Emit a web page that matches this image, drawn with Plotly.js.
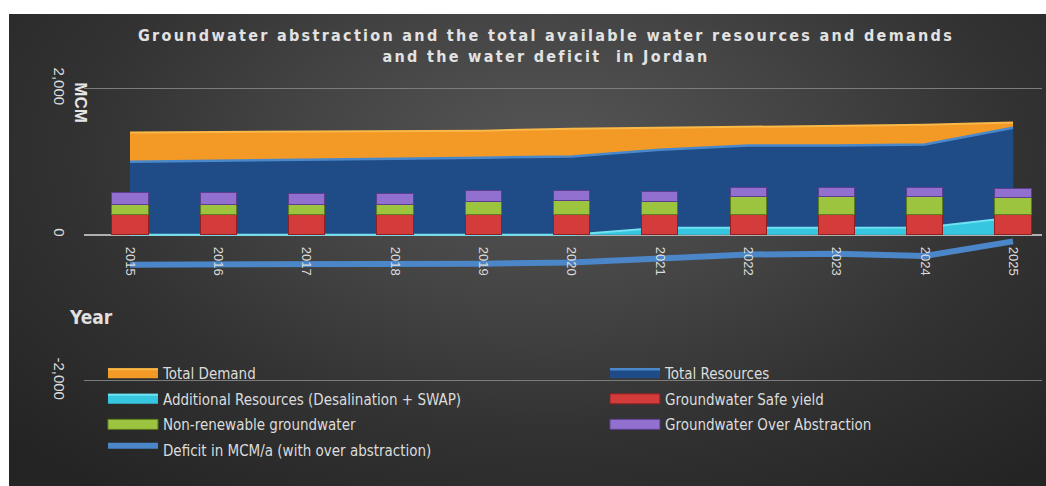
<!DOCTYPE html>
<html>
<head>
<meta charset="utf-8">
<script src="https://cdn.plot.ly/plotly-3.0.1.min.js"></script>
<style>
  html, body { margin: 0; padding: 0; background: #ffffff; }
  #wrap { position: relative; width: 1046px; height: 486px; overflow: hidden; }
  #bg { position: absolute; left: 9px; top: 14px; width: 1037px; height: 472px;
        background: radial-gradient(ellipse 70% 90% at 52% 30%, #565656 0%, #444444 35%, #323232 65%, #242424 100%); }
  #chart { position: absolute; left: 0; top: 0; width: 1046px; height: 486px; }
  #chart .gtitle { letter-spacing: 2.3px; }
</style>
</head>
<body>
<div id="wrap">
  <div id="bg"></div>
  <div id="chart"></div>
</div>
<script>
// ---- data (MCM) ----
const years = [2015, 2016, 2017, 2018, 2019, 2020, 2021, 2022, 2023, 2024, 2025];
const yearLabels = ['2015','2016','2017','2018','2019','2020','2021','2022','2023','2024','2025'];
const totalDemand = [1400, 1405, 1410, 1415, 1425, 1450, 1465, 1480, 1490, 1505, 1535];
const totalResources = [1000, 1010, 1025, 1040, 1055, 1070, 1165, 1220, 1220, 1235, 1465];
const additionalResources = [0, 0, 0, 0, 0, 0, 95, 100, 100, 100, 235];
const safeYield = [275, 275, 275, 275, 275, 275, 275, 275, 275, 275, 275];
const nonRenewable = [137, 137, 137, 137, 175, 190, 182, 245, 245, 245, 230];
const overAbstraction = [172, 172, 152, 152, 155, 137, 130, 125, 125, 125, 123];
const deficit = [-410, -410, -395, -415, -395, -380, -330, -270, -260, -290, -90];
const yTickVals = [-2000, 0, 2000];
const yTickText = ['-2,000', '0', '2,000'];

const FONT = 'DejaVu Sans Condensed, Liberation Sans Narrow, Arial Narrow, sans-serif';
const TXT = '#dcdcdc';

const traces = [
  { name: 'Total Demand', x: years, y: totalDemand, type: 'scatter', mode: 'lines',
    fill: 'tozeroy', fillcolor: '#f39a26', line: { color: '#f9b848', width: 2 },
    xaxis: 'x', yaxis: 'y', legend: 'legend', legendgroup: 'g1' },
  { name: 'Total Resources', x: years, y: totalResources, type: 'scatter', mode: 'lines',
    fill: 'tozeroy', fillcolor: '#1f4c86', line: { color: '#4a88cc', width: 2.5 },
    xaxis: 'x', yaxis: 'y', legend: 'legend2', legendgroup: 'g2' },
  { name: 'Additional Resources (Desalination + SWAP)', x: years, y: additionalResources, type: 'scatter', mode: 'lines',
    fill: 'tozeroy', fillcolor: '#36c6e0', line: { color: '#6fe2f2', width: 2 },
    xaxis: 'x', yaxis: 'y', legend: 'legend', legendgroup: 'g3' },
  { name: 'Groundwater Safe yield', x: years, y: safeYield, type: 'bar',
    marker: { color: '#d43c3c', line: { color: '#8e2020', width: 1 } },
    xaxis: 'x', yaxis: 'y2', legend: 'legend2', legendgroup: 'g4' },
  { name: 'Non-renewable groundwater', x: years, y: nonRenewable, type: 'bar',
    marker: { color: '#9cc43e', line: { color: '#5e7d1e', width: 1 } },
    xaxis: 'x', yaxis: 'y2', legend: 'legend', legendgroup: 'g5' },
  { name: 'Groundwater Over Abstraction', x: years, y: overAbstraction, type: 'bar',
    marker: { color: '#9270cf', line: { color: '#5b3f8e', width: 1 } },
    xaxis: 'x', yaxis: 'y2', legend: 'legend2', legendgroup: 'g6' },
  { name: 'Deficit in MCM/a (with over abstraction)', x: years, y: deficit, type: 'scatter', mode: 'lines',
    line: { color: '#4a86c8', width: 6 },
    xaxis: 'x', yaxis: 'y2', legend: 'legend', legendgroup: 'g7' }
];

const yRange = [-3000, 2200];
const zeroPos = (0 - yRange[0]) / (yRange[1] - yRange[0]);

const legendCommon = {
  orientation: 'v', bgcolor: 'rgba(0,0,0,0)', borderwidth: 0,
  font: { family: FONT, size: 15, color: TXT },
  itemwidth: 50, traceorder: 'grouped', tracegroupgap: 3,
  xanchor: 'left', yanchor: 'top', itemclick: false, itemdoubleclick: false
};

const layout = {
  width: 1046, height: 486,
  paper_bgcolor: 'rgba(0,0,0,0)', plot_bgcolor: 'rgba(0,0,0,0)',
  margin: { l: 84, r: 4, t: 74.4, b: 32 },
  showlegend: true,
  barmode: 'stack', bargap: 0.59,
  title: {
    text: 'Groundwater abstraction and the total available water resources and demands<br>and the water deficit  in Jordan',
    font: { family: FONT, size: 16, weight: 'bold', color: '#e2e2e2' },
    x: 0.522, xanchor: 'center', xref: 'container',
    y: 0.915, yanchor: 'top', yref: 'container'
  },
  xaxis: {
    range: [2014.479, 2025.328], anchor: 'free', position: zeroPos,
    tickvals: years, ticktext: yearLabels, tickangle: 90,
    tickfont: { family: 'Liberation Sans, Arial, sans-serif', size: 13, color: TXT },
    ticks: '', ticklabelstandoff: 11,
    showgrid: false, zeroline: false, showline: false, fixedrange: true
  },
  yaxis: {
    range: yRange, tickvals: yTickVals, ticktext: yTickText, tickangle: 90,
    tickfont: { family: 'Liberation Sans, Arial, sans-serif', size: 15, color: TXT },
    ticks: '', ticklabelstandoff: 14,
    showgrid: true, gridcolor: '#7c7c7c', gridwidth: 1,
    zeroline: true, zerolinecolor: '#b0b0b0', zerolinewidth: 2,
    showline: false, fixedrange: true
  },
  yaxis2: {
    range: yRange, overlaying: 'y', visible: false, fixedrange: true
  },
  legend: Object.assign({}, legendCommon, { x: 0.0198, y: 0.255 }),
  legend2: Object.assign({}, legendCommon, { x: 0.5438, y: 0.255 }),
  annotations: [
    { text: '<b>MCM</b>', xref: 'paper', yref: 'paper', x: -0.004, y: 0.925,
      xanchor: 'center', yanchor: 'middle', textangle: 90, showarrow: false,
      font: { family: 'Liberation Sans, Arial, sans-serif', size: 17, color: '#e6e6e6' } },
    { text: '<b>Year</b>', xref: 'paper', yref: 'paper', x: 0.0076, y: 0.36,
      xanchor: 'center', yanchor: 'middle', showarrow: false,
      font: { family: FONT, size: 19, color: '#e0e0e0' } }
  ]
};

function widenLegendSymbols() {
  const root = document.getElementById('chart');
  root.querySelectorAll('.legendpoints path').forEach(p => {
    p.setAttribute('d', 'M5,-5h50v10h-50z');
    p.removeAttribute('transform');
  });
  root.querySelectorAll('.legendfill path').forEach(p => {
    p.setAttribute('d', 'M5,-5h50v10h-50z');
  });
  root.querySelectorAll('.legendfill').forEach(g => {
    const item = g.parentNode;
    const lp = item && item.querySelector('.legendlines path');
    if (lp) lp.setAttribute('d', 'M5,-4h50');
  });
}

Plotly.newPlot('chart', traces, layout, { displayModeBar: false, staticPlot: true })
  .then(() => { widenLegendSymbols(); setTimeout(widenLegendSymbols, 50); });
</script>
</body>
</html>
